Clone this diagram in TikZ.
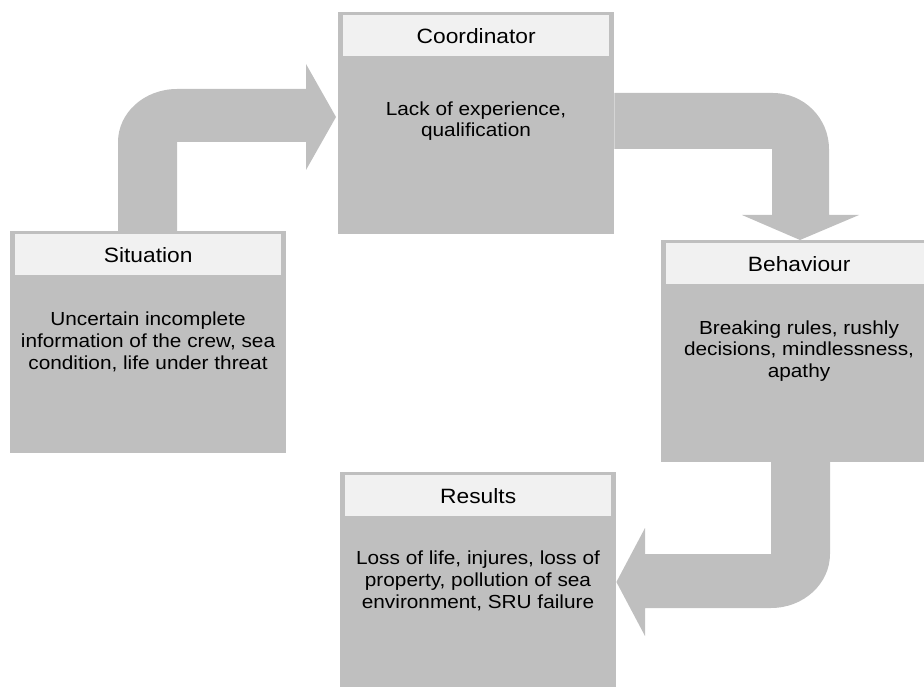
\documentclass[tikz,border=0pt]{standalone}
\usepackage{fontspec}
\setmainfont{Liberation Sans}[FakeStretch=1.1]
\definecolor{boxgray}{HTML}{BFBFBF}
\definecolor{hdrgray}{HTML}{F1F1F1}
\begin{document}
\begin{tikzpicture}[x=1pt,y=-1pt,
  box/.style={fill=boxgray, draw=none, anchor=north west, minimum width=276pt, minimum height=222pt, inner sep=0pt},
  hdr/.style={fill=hdrgray, draw=none, anchor=north west, minimum width=266pt, minimum height=41pt, inner sep=0pt, font=\fontsize{20.7}{24}\selectfont},
  body/.style={align=center, inner sep=0pt, font=\fontsize{18.9}{21.7}\selectfont},
  barrow/.style={fill=boxgray, draw=none}]
\clip (0,0) rectangle (924,687);
% boxes
\node[box] (sit) at (10,231) {};
\node[box] (coo) at (338,12) {};
\node[box] (beh) at (661,240) {};
\node[box] (res) at (340,472) {};
% block arrows
\fill[barrow] (118,236) -- (118,142) .. controls (118,112.7) and (144.4,89) .. (177,89)
  -- (306,89) -- (306,64) -- (336,117) -- (306,170) -- (306,142) -- (177,142) -- (177,236) -- cycle;
\fill[barrow] (coo.east |- 0,93) -- (773,93) .. controls (803.9,93) and (829,118.1) .. (829,149)
  -- (829,215) -- (859,215) -- (800,240) -- (742,215) -- (772,215) -- (772,149) -- (coo.east |- 0,149) -- cycle;
\fill[barrow] (771,462) -- (830,462) -- (830,554) .. controls (830,583.8) and (803.6,608) .. (771,608)
  -- (645,608) -- (645,636) -- (res.east |- 0,582) -- (645,528) -- (645,554) -- (771,554) -- cycle;
% headers
\node[hdr] (sith) at (15,234) {Situation};
\node[hdr] (cooh) at (343,15) {Coordinator};
\node[hdr] (behh) at (666,243) {Behaviour};
\node[hdr] (resh) at (345,475) {Results};
% texts
\node[body] (sitt) at (148,342) {Uncertain incomplete\\information of the crew, sea\\condition, life under threat};
\node[body] (coot) at (476,121) {Lack of experience,\\qualification};
\node[body] (beht) at (799,351) {Breaking rules, rushly\\decisions, mindlessness,\\apathy};
\node[body] (rest) at (478,581) {Loss of life, injures, loss of\\property, pollution of sea\\environment, SRU failure};
\end{tikzpicture}
\end{document}
